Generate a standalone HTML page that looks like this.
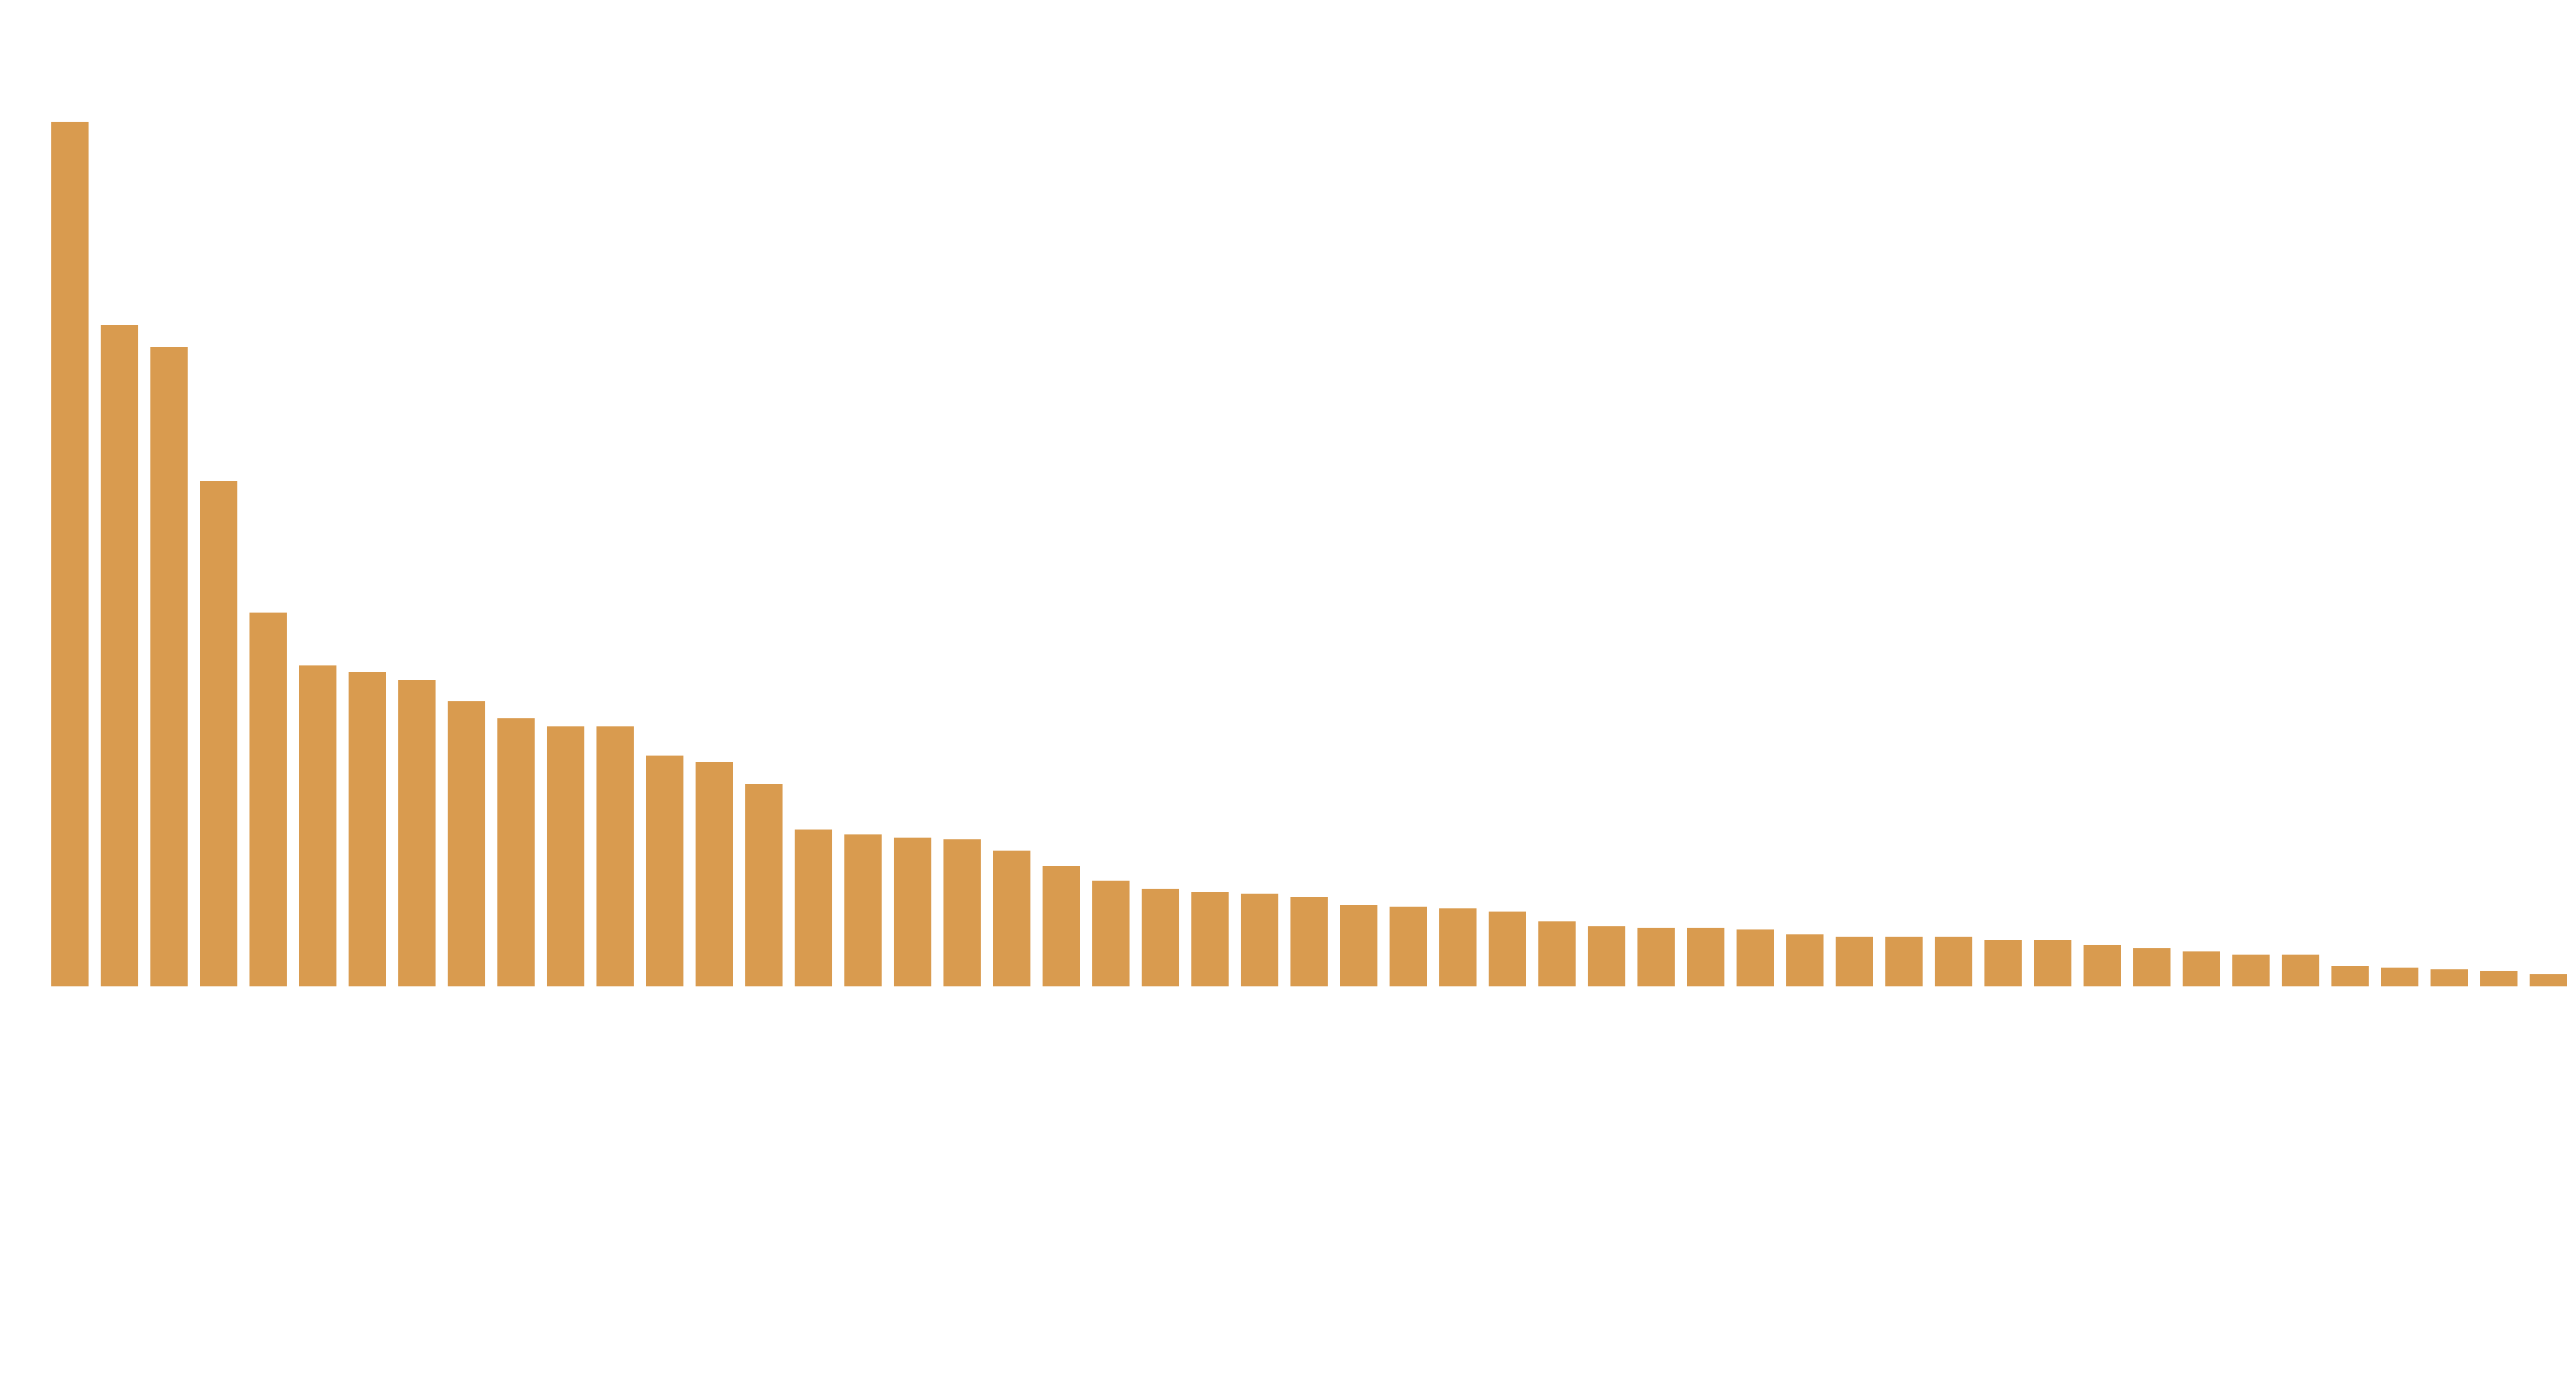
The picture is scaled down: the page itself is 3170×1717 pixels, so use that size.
<!DOCTYPE html>
<html><head><meta charset="utf-8"><style>html,body{margin:0;padding:0;background:#fff}</style></head>
<body>
<svg id="s" width="3170" height="1717" xmlns="http://www.w3.org/2000/svg" style="display:block"></svg>
<script>
var tops=[150,400,427,592,754,819,827,837,863,884,894,894,930,938,965,1021,1027,1031,1033,1047,1066,1084,1094,1098,1100,1104,1114,1116,1118,1122,1134,1140,1142,1142,1144,1150,1153,1153,1153,1157,1157,1163,1167,1171,1175,1175,1189,1191,1193,1195,1199];
var s=document.getElementById('s'),h='<rect width="3170" height="1717" fill="#fff"/>';
for(var i=0;i<tops.length;i++){var x=63+i*61;h+='<rect x="'+x+'" y="'+tops[i]+'" width="46" height="'+(1214-tops[i])+'" fill="#d99b4f"/>';}
s.innerHTML=h;
</script>
</body></html>
